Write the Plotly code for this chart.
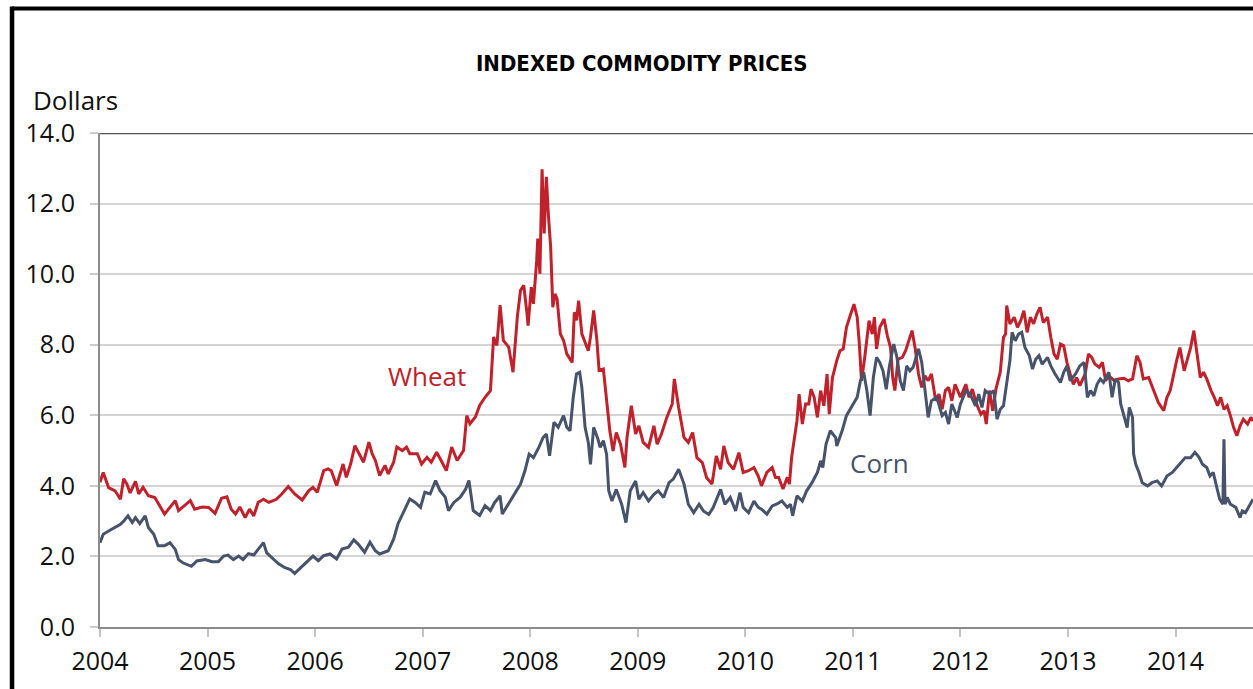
import plotly.graph_objects as go

# ---------------- data ----------------
wheat_t = [
    2004.00, 2004.03, 2004.08, 2004.14, 2004.19, 2004.22, 2004.25, 2004.28, 2004.33, 2004.36,
    2004.40, 2004.45, 2004.51, 2004.56, 2004.60, 2004.65, 2004.70, 2004.73, 2004.77, 2004.84,
    2004.88, 2004.95, 2005.01, 2005.07, 2005.13, 2005.18, 2005.22, 2005.26, 2005.30, 2005.35,
    2005.39, 2005.43, 2005.47, 2005.52, 2005.57, 2005.64, 2005.69, 2005.75, 2005.81, 2005.88,
    2005.94, 2005.98, 2006.02, 2006.08, 2006.12, 2006.15, 2006.20, 2006.26, 2006.29, 2006.33,
    2006.37, 2006.42, 2006.45, 2006.50, 2006.53, 2006.56, 2006.60, 2006.65, 2006.68, 2006.73,
    2006.76, 2006.81, 2006.85, 2006.88, 2006.95, 2006.99, 2007.04, 2007.08, 2007.13, 2007.18,
    2007.22, 2007.27, 2007.32, 2007.38, 2007.41, 2007.44, 2007.49, 2007.53, 2007.58, 2007.63,
    2007.66, 2007.69, 2007.72, 2007.75, 2007.80, 2007.84, 2007.88, 2007.91, 2007.94, 2007.97,
    2007.98, 2008.01, 2008.03, 2008.06, 2008.07, 2008.09, 2008.11, 2008.13, 2008.15, 2008.17,
    2008.19, 2008.21, 2008.23, 2008.25, 2008.28, 2008.31, 2008.34, 2008.39, 2008.41, 2008.43,
    2008.45, 2008.48, 2008.51, 2008.54, 2008.56, 2008.59, 2008.62, 2008.64, 2008.68, 2008.71,
    2008.74, 2008.77, 2008.80, 2008.84, 2008.88, 2008.90, 2008.94, 2008.98, 2009.01, 2009.05,
    2009.10, 2009.15, 2009.18, 2009.22, 2009.27, 2009.32, 2009.34, 2009.38, 2009.43, 2009.47,
    2009.51, 2009.55, 2009.60, 2009.64, 2009.69, 2009.73, 2009.77, 2009.80, 2009.84, 2009.89,
    2009.94, 2009.98, 2010.03, 2010.08, 2010.12, 2010.15, 2010.20, 2010.25, 2010.28, 2010.31,
    2010.35, 2010.39, 2010.41, 2010.43, 2010.45, 2010.48, 2010.50, 2010.53, 2010.56, 2010.59,
    2010.61, 2010.64, 2010.67, 2010.70, 2010.73, 2010.76, 2010.78, 2010.81, 2010.85, 2010.88,
    2010.91, 2010.94, 2010.97, 2011.01, 2011.04, 2011.06, 2011.08, 2011.11, 2011.15, 2011.18,
    2011.20, 2011.22, 2011.25, 2011.29, 2011.32, 2011.35, 2011.37, 2011.39, 2011.42, 2011.46,
    2011.49, 2011.52, 2011.55, 2011.58, 2011.61, 2011.64, 2011.67, 2011.70, 2011.73, 2011.77,
    2011.80, 2011.83, 2011.86, 2011.89, 2011.92, 2011.95, 2012.00, 2012.05, 2012.08, 2012.11,
    2012.15, 2012.19, 2012.22, 2012.24, 2012.27, 2012.30, 2012.33, 2012.37, 2012.40, 2012.42,
    2012.43, 2012.46, 2012.50, 2012.53, 2012.56, 2012.59, 2012.62, 2012.65, 2012.68, 2012.71,
    2012.74, 2012.77, 2012.81, 2012.84, 2012.87, 2012.90, 2012.93, 2012.96, 2012.99, 2013.02,
    2013.05, 2013.08, 2013.11, 2013.16, 2013.19, 2013.22, 2013.25, 2013.29, 2013.32, 2013.35,
    2013.38, 2013.43, 2013.47, 2013.52, 2013.56, 2013.60, 2013.64, 2013.67, 2013.70, 2013.75,
    2013.80, 2013.84, 2013.89, 2013.92, 2013.95, 2013.98, 2014.01, 2014.04, 2014.08, 2014.11,
    2014.14, 2014.17, 2014.20, 2014.23, 2014.26, 2014.29, 2014.33, 2014.36, 2014.39, 2014.42,
    2014.45, 2014.48, 2014.51, 2014.54, 2014.57, 2014.60, 2014.63, 2014.67, 2014.70, 2014.72,
]
wheat_v = [
    4.10, 4.38, 3.95, 3.86, 3.62, 4.20, 4.05, 3.80, 4.13, 3.77,
    3.96, 3.72, 3.67, 3.39, 3.20, 3.39, 3.58, 3.30, 3.40, 3.58,
    3.34, 3.40, 3.39, 3.22, 3.65, 3.69, 3.34, 3.20, 3.40, 3.10,
    3.34, 3.15, 3.53, 3.62, 3.53, 3.62, 3.77, 3.98, 3.77, 3.60,
    3.86, 3.96, 3.82, 4.43, 4.48, 4.43, 4.01, 4.62, 4.24, 4.62,
    5.14, 4.86, 4.67, 5.24, 4.91, 4.72, 4.29, 4.58, 4.34, 4.67,
    5.10, 5.00, 5.10, 4.91, 4.91, 4.62, 4.81, 4.67, 4.95, 4.67,
    4.43, 5.10, 4.72, 5.00, 5.99, 5.76, 5.95, 6.28, 6.51, 6.70,
    8.22, 7.98, 9.12, 8.12, 7.93, 7.22, 8.79, 9.54, 9.68, 8.88,
    8.54, 9.63, 9.16, 10.39, 11.01, 10.01, 12.97, 11.15, 12.76, 11.62,
    10.77, 9.06, 9.44, 9.30, 8.31, 8.12, 7.74, 7.50, 8.92, 8.69,
    9.25, 8.31, 8.07, 7.83, 8.21, 8.97, 8.12, 7.27, 7.31, 6.51,
    5.56, 4.99, 5.51, 5.18, 4.52, 5.37, 6.27, 5.47, 5.70, 5.23,
    5.09, 5.70, 5.18, 5.47, 5.94, 6.32, 7.03, 6.22, 5.37, 5.23,
    5.51, 4.80, 4.66, 4.23, 4.05, 4.85, 4.47, 5.13, 4.66, 4.47,
    4.94, 4.38, 4.43, 4.52, 4.28, 4.00, 4.38, 4.52, 4.24, 4.24,
    3.91, 4.24, 4.05, 4.80, 5.23, 5.84, 6.60, 5.75, 6.32, 6.32,
    6.74, 6.51, 5.94, 6.70, 6.27, 7.17, 6.03, 7.07, 7.55, 7.83,
    7.88, 8.49, 8.78, 9.15, 8.78, 8.02, 6.98, 7.64, 8.68, 8.30,
    8.78, 7.88, 8.49, 8.73, 8.26, 7.92, 7.07, 6.70, 7.59, 7.64,
    7.83, 8.11, 8.40, 7.88, 7.17, 6.79, 7.12, 6.98, 7.17, 6.41,
    6.60, 6.17, 6.70, 6.79, 6.41, 6.88, 6.51, 6.88, 6.51, 6.74,
    6.32, 6.03, 6.13, 5.75, 6.70, 6.13, 6.74, 7.22, 8.21, 8.30,
    9.11, 8.59, 8.78, 8.49, 8.68, 8.96, 8.35, 8.78, 8.59, 8.87,
    9.06, 8.63, 8.78, 8.21, 7.74, 7.59, 8.02, 7.97, 7.50, 7.17,
    6.88, 7.07, 6.84, 7.17, 7.74, 7.64, 7.45, 7.36, 7.50, 6.98,
    7.12, 6.98, 7.03, 7.05, 6.98, 7.03, 7.69, 7.50, 7.03, 7.07,
    6.70, 6.36, 6.13, 6.51, 6.70, 7.17, 7.55, 7.92, 7.26, 7.59,
    7.92, 8.40, 7.74, 7.07, 7.22, 7.03, 6.70, 6.51, 6.27, 6.51,
    6.17, 6.27, 5.99, 5.65, 5.42, 5.70, 5.89, 5.75, 5.94, 5.84,
]

corn_t = [
    2004.00, 2004.03, 2004.08, 2004.14, 2004.19, 2004.22, 2004.26, 2004.30, 2004.33, 2004.37,
    2004.42, 2004.45, 2004.50, 2004.54, 2004.60, 2004.65, 2004.70, 2004.73, 2004.77, 2004.85,
    2004.90, 2004.98, 2005.04, 2005.10, 2005.15, 2005.19, 2005.24, 2005.29, 2005.33, 2005.38,
    2005.43, 2005.47, 2005.52, 2005.55, 2005.60, 2005.66, 2005.72, 2005.77, 2005.81, 2005.88,
    2005.94, 2005.98, 2006.03, 2006.08, 2006.14, 2006.20, 2006.25, 2006.31, 2006.36, 2006.40,
    2006.46, 2006.51, 2006.56, 2006.60, 2006.68, 2006.73, 2006.77, 2006.82, 2006.88, 2006.93,
    2006.98, 2007.02, 2007.07, 2007.12, 2007.16, 2007.21, 2007.24, 2007.29, 2007.35, 2007.40,
    2007.43, 2007.47, 2007.53, 2007.58, 2007.63, 2007.67, 2007.72, 2007.74, 2007.80, 2007.84,
    2007.91, 2007.95, 2007.99, 2008.03, 2008.08, 2008.12, 2008.15, 2008.18, 2008.22, 2008.26,
    2008.31, 2008.34, 2008.37, 2008.40, 2008.43, 2008.46, 2008.48, 2008.51, 2008.54, 2008.56,
    2008.59, 2008.63, 2008.65, 2008.68, 2008.71, 2008.73, 2008.76, 2008.80, 2008.85, 2008.89,
    2008.93, 2008.98, 2009.01, 2009.05, 2009.10, 2009.15, 2009.19, 2009.24, 2009.29, 2009.33,
    2009.38, 2009.43, 2009.47, 2009.52, 2009.57, 2009.61, 2009.66, 2009.70, 2009.77, 2009.81,
    2009.86, 2009.91, 2009.95, 2009.98, 2010.03, 2010.08, 2010.12, 2010.15, 2010.20, 2010.25,
    2010.29, 2010.34, 2010.39, 2010.42, 2010.44, 2010.48, 2010.53, 2010.57, 2010.62, 2010.67,
    2010.70, 2010.72, 2010.75, 2010.79, 2010.84, 2010.85, 2010.90, 2010.94, 2010.99, 2011.04,
    2011.07, 2011.10, 2011.13, 2011.16, 2011.19, 2011.22, 2011.25, 2011.28, 2011.31, 2011.34,
    2011.38, 2011.41, 2011.44, 2011.47, 2011.50, 2011.53, 2011.56, 2011.61, 2011.64, 2011.67,
    2011.70, 2011.73, 2011.78, 2011.83, 2011.86, 2011.89, 2011.92, 2011.97, 2012.00, 2012.05,
    2012.09, 2012.14, 2012.17, 2012.20, 2012.23, 2012.27, 2012.31, 2012.34, 2012.37, 2012.40,
    2012.43, 2012.46, 2012.48, 2012.51, 2012.54, 2012.57, 2012.60, 2012.64, 2012.67, 2012.70,
    2012.73, 2012.76, 2012.81, 2012.84, 2012.88, 2012.93, 2012.96, 2012.99, 2013.02, 2013.07,
    2013.11, 2013.15, 2013.18, 2013.21, 2013.24, 2013.27, 2013.30, 2013.33, 2013.38, 2013.41,
    2013.44, 2013.47, 2013.49, 2013.52, 2013.55, 2013.57, 2013.60, 2013.61, 2013.63, 2013.66,
    2013.69, 2013.74, 2013.78, 2013.83, 2013.87, 2013.92, 2013.97, 2014.01, 2014.05, 2014.09,
    2014.14, 2014.18, 2014.22, 2014.25, 2014.29, 2014.32, 2014.35, 2014.38, 2014.41, 2014.44,
    2014.45, 2014.46, 2014.48, 2014.51, 2014.56, 2014.60, 2014.62, 2014.65, 2014.69, 2014.72,
]
corn_v = [
    2.39, 2.63, 2.72, 2.82, 2.91, 3.00, 3.15, 2.96, 3.10, 2.93,
    3.15, 2.82, 2.63, 2.30, 2.30, 2.39, 2.20, 1.91, 1.82, 1.72,
    1.87, 1.91, 1.85, 1.85, 2.01, 2.04, 1.91, 2.01, 1.91, 2.08,
    2.04, 2.20, 2.39, 2.10, 1.96, 1.79, 1.68, 1.63, 1.52, 1.72,
    1.89, 2.01, 1.88, 2.02, 2.07, 1.93, 2.21, 2.26, 2.47, 2.35,
    2.12, 2.40, 2.16, 2.07, 2.16, 2.49, 2.92, 3.25, 3.63, 3.53,
    3.39, 3.82, 3.77, 4.15, 3.87, 3.68, 3.30, 3.53, 3.68, 3.91,
    4.15, 3.30, 3.16, 3.44, 3.30, 3.53, 3.72, 3.20, 3.49, 3.68,
    4.05, 4.42, 4.90, 4.80, 5.09, 5.37, 5.47, 4.85, 5.80, 5.66,
    5.99, 5.66, 5.56, 6.51, 7.17, 7.22, 6.79, 5.66, 5.23, 4.61,
    5.66, 5.32, 5.09, 5.28, 4.90, 3.86, 3.57, 3.90, 3.48, 2.96,
    3.86, 4.14, 3.62, 3.81, 3.57, 3.76, 3.86, 3.67, 4.09, 4.19,
    4.47, 4.05, 3.48, 3.24, 3.48, 3.29, 3.19, 3.38, 3.90, 3.48,
    3.67, 3.29, 3.81, 3.39, 3.24, 3.57, 3.39, 3.34, 3.20, 3.43,
    3.48, 3.57, 3.39, 3.48, 3.15, 3.72, 3.57, 3.86, 4.09, 4.38,
    4.71, 4.52, 5.18, 5.56, 5.37, 5.13, 5.56, 5.99, 6.27, 6.51,
    6.98, 7.22, 6.70, 5.99, 7.07, 7.64, 7.50, 7.26, 6.74, 7.40,
    8.02, 7.64, 6.98, 6.70, 7.40, 7.26, 7.36, 7.88, 7.50, 6.70,
    5.94, 6.41, 6.51, 5.99, 6.08, 5.75, 6.32, 5.94, 6.32, 6.70,
    6.60, 6.27, 6.60, 6.22, 6.70, 6.60, 6.70, 5.89, 6.17, 6.27,
    6.98, 7.55, 8.35, 8.11, 8.30, 8.35, 7.92, 7.69, 7.31, 7.59,
    7.69, 7.45, 7.64, 7.40, 7.17, 6.93, 7.22, 7.40, 6.98, 7.17,
    7.40, 7.50, 6.51, 6.70, 6.55, 6.88, 7.03, 6.93, 7.22, 6.51,
    7.03, 6.93, 6.32, 5.99, 5.65, 6.22, 5.94, 4.90, 4.61, 4.38,
    4.09, 4.00, 4.09, 4.14, 4.00, 4.28, 4.38, 4.52, 4.66, 4.80,
    4.80, 4.95, 4.80, 4.61, 4.52, 4.28, 4.38, 3.95, 3.62, 3.48,
    5.32, 3.48, 3.67, 3.48, 3.39, 3.10, 3.29, 3.24, 3.48, 3.62,
]

year_ticks = list(range(2004, 2015))
y_ticks = [0, 2, 4, 6, 8, 10, 12, 14]

series_names = ["Wheat", "Corn"]
label_pos = {"Wheat": (2007.04, 7.11), "Corn": (2011.25, 4.65)}

WHEAT_COLOR = "#C0212B"
CORN_COLOR = "#46536B"
FONT = "Open Sans, Noto Sans, DejaVu Sans, sans-serif"

fig = go.Figure()
fig.add_trace(go.Scatter(x=wheat_t, y=wheat_v, mode="lines", name="Wheat",
                         line=dict(color=WHEAT_COLOR, width=3), hoverinfo="x+y"))
fig.add_trace(go.Scatter(x=corn_t, y=corn_v, mode="lines", name="Corn",
                         line=dict(color=CORN_COLOR, width=3), hoverinfo="x+y"))

for name, color in zip(series_names, [WHEAT_COLOR, CORN_COLOR]):
    lx, ly = label_pos[name]
    fig.add_annotation(x=lx, y=ly, xref="x", yref="y", text=name, showarrow=False,
                       font=dict(family=FONT, size=26, color=color),
                       xanchor="center", yanchor="middle")

# title and unit label
fig.add_annotation(x=0.47, y=1.1397, xref="paper", yref="paper",
                   text="<b>INDEXED COMMODITY PRICES</b>", showarrow=False,
                   font=dict(family="Liberation Sans Narrow, DejaVu Sans Condensed, Arial Narrow, sans-serif",
                             size=22, color="#000000"),
                   xanchor="center", yanchor="middle")
fig.add_annotation(x=-0.0598, y=1.0668, xref="paper", yref="paper",
                   text="Dollars", showarrow=False,
                   font=dict(family=FONT, size=26, color="#111111"),
                   xanchor="left", yanchor="middle")

# dark line along the top of the plot area
fig.add_shape(type="line", xref="paper", yref="y", x0=0, x1=1, y0=14, y1=14,
              line=dict(color="#555555", width=2.5), layer="above")
# black outer frame (left and top edges)
fig.add_shape(type="line", xref="paper", yref="paper", x0=-0.0763, x1=1.05, y0=1.252, y1=1.252,
              line=dict(color="#000000", width=4))
fig.add_shape(type="line", xref="paper", yref="paper", x0=-0.0763, x1=-0.0763, y0=1.256, y1=-0.2,
              line=dict(color="#000000", width=4.5))

fig.update_layout(
    width=1253, height=689,
    margin=dict(l=100, r=0, t=133, b=62),
    paper_bgcolor="white", plot_bgcolor="white",
    showlegend=False,
    font=dict(family=FONT, color="#111111"),
)
fig.update_xaxes(range=[2004, 2014.72], tickvals=year_ticks, ticktext=[str(y) for y in year_ticks],
                 ticks="outside", ticklen=8, tickwidth=1.5, tickcolor="#c4c4c4",
                 showline=True, linecolor="#8c8c8c", linewidth=2,
                 showgrid=False, zeroline=False, ticklabelstandoff=3,
                 tickfont=dict(family=FONT, size=25, color="#111111"))
fig.update_yaxes(range=[0, 14], tickvals=y_ticks, tickformat=".1f",
                 ticks="outside", ticklen=8, tickwidth=1.5, tickcolor="#cccccc",
                 showline=True, linecolor="#8c8c8c", linewidth=2,
                 showgrid=True, gridcolor="#d4d4d4", gridwidth=1.5, zeroline=False,
                 ticklabelstandoff=10,
                 tickfont=dict(family=FONT, size=25, color="#111111"))

fig.write_html("out.html", include_plotlyjs=True, config={"displayModeBar": False},
               post_script="document.body.style.margin='0';document.body.style.overflow='hidden';")
